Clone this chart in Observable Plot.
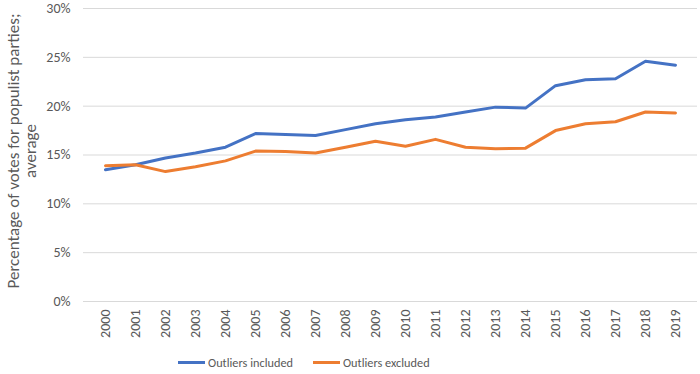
<!DOCTYPE html>
<html>
<head>
<meta charset="utf-8">
<script src="https://cdn.jsdelivr.net/npm/d3@7"></script>
<script src="https://cdn.jsdelivr.net/npm/@observablehq/plot@0.6"></script>
<style>
  body { margin: 0; background: #fff; font-family: Carlito, Lato, "Open Sans", sans-serif; }
  #chart svg { display: block; }
  .legend { display: flex; justify-content: flex-start; align-items: center; height: 24px; font-size: 12.3px; color: #595959; padding-left: 178px; }
  .legend .item { display: flex; align-items: center; margin-right: 20px; }
  .legend .sw { width: 27px; height: 3px; margin-right: 3px; }
</style>
</head>
<body>
<div id="chart"></div>
<div class="legend">
  <div class="item"><div class="sw" style="background:#4472C4"></div><span>Outliers included</span></div>
  <div class="item"><div class="sw" style="background:#ED7D31"></div><span>Outliers excluded</span></div>
</div>
<script>
const years = ["2000","2001","2002","2003","2004","2005","2006","2007","2008","2009","2010","2011","2012","2013","2014","2015","2016","2017","2018","2019"];
const outliersIncluded = [13.5, 14.0, 14.7, 15.2, 15.8, 17.2, 17.1, 17.0, 17.6, 18.2, 18.6, 18.9, 19.4, 19.9, 19.8, 22.1, 22.7, 22.8, 24.6, 24.2];
const outliersExcluded = [13.9, 14.0, 13.3, 13.8, 14.4, 15.4, 15.35, 15.2, 15.8, 16.4, 15.9, 16.6, 15.8, 15.65, 15.7, 17.5, 18.2, 18.4, 19.4, 19.3];
const seriesNames = ["Outliers included", "Outliers excluded"];
const seriesColors = ["#4472C4", "#ED7D31"];
const yTicks = [0, 5, 10, 15, 20, 25, 30];
const yLabel = "Percentage of votes for populist parties;\naverage";

const data = [];
years.forEach((y, i) => {
  data.push({year: y, value: outliersIncluded[i], series: seriesNames[0]});
  data.push({year: y, value: outliersExcluded[i], series: seriesNames[1]});
});

const chart = Plot.plot({
  width: 700,
  height: 350,
  marginTop: 8,
  marginBottom: 49,
  marginLeft: 83,
  marginRight: 3,
  style: {fontFamily: 'Carlito, Lato, "Open Sans", sans-serif', fontSize: "14px", color: "#595959", background: "#fff"},
  x: {type: "point", domain: years, padding: 0.5, label: null, tickSize: 0, tickPadding: 8, tickRotate: -90},
  y: {domain: [0, 30], ticks: yTicks, tickFormat: d => d + "%", label: null, tickSize: 0, tickPadding: 13},
  color: {domain: seriesNames, range: seriesColors},
  marks: [
    Plot.gridY(yTicks, {stroke: "#d9d9d9", strokeOpacity: 1, strokeWidth: 1}),
    Plot.lineY(data, {x: "year", y: "value", z: "series", stroke: "series", strokeWidth: 3, strokeLinejoin: "round", strokeLinecap: "round"}),
    Plot.text([yLabel], {frameAnchor: "left", text: d => d, rotate: -90, dx: -61, dy: -4, lineAnchor: "middle", textAnchor: "middle", fontSize: 17, fill: "#595959", lineHeight: 1.0})
  ]
});
document.getElementById("chart").appendChild(chart);
</script>
</body>
</html>
